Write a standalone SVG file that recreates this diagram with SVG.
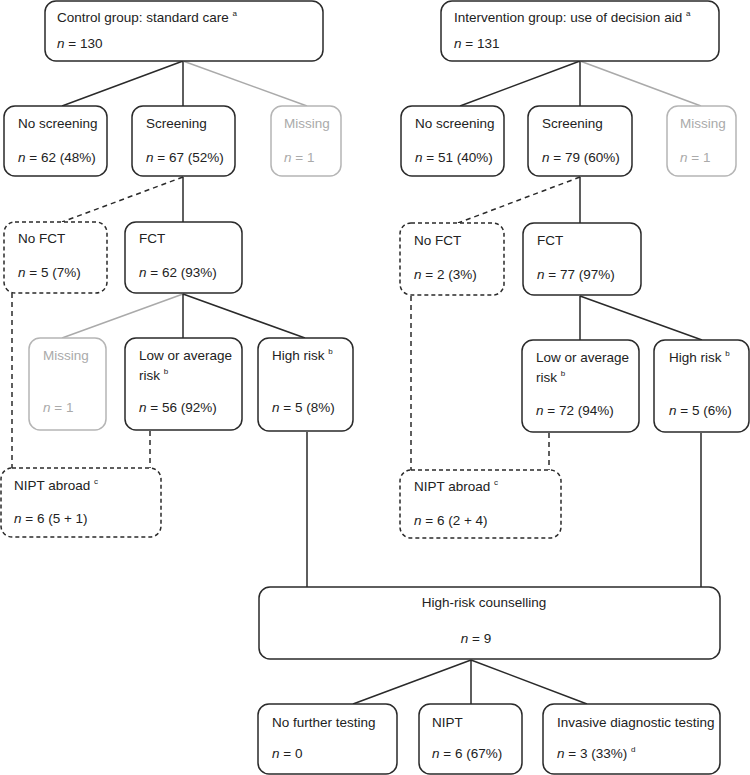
<svg xmlns="http://www.w3.org/2000/svg" width="750" height="775" viewBox="0 0 750 775">
<style>
text{font-family:"Liberation Sans",Arial,sans-serif;font-size:13.5px;fill:#222}
.box{fill:#fff;stroke:#2a2a2a;stroke-width:1.5}
.gbox{fill:#fff;stroke:#b5b5b5;stroke-width:1.5}
.dbox{fill:#fff;stroke:#2a2a2a;stroke-width:1.5;stroke-dasharray:4 3}
.g{fill:#aaa}
.c{stroke:#2a2a2a;stroke-width:1.5;fill:none}
.cg{stroke:#aaa;stroke-width:1.5;fill:none}
.cd{stroke:#2a2a2a;stroke-width:1.5;fill:none;stroke-dasharray:5 4}
.sup{font-size:8px}
.i{font-style:italic}
</style>
<g id="connectors">
<path class="c" d="M183 61L62 106M183 61V106"/>
<path class="cg" d="M183 61L307 106"/>
<path class="c" d="M580 61L460 106M580 61V106"/>
<path class="cg" d="M580 61L701 106"/>
<path class="cd" d="M183 177L62 222"/>
<path class="c" d="M183 177V222"/>
<path class="cd" d="M580 177L458 223"/>
<path class="c" d="M580 177V223"/>
<path class="cg" d="M183 294L62 338"/>
<path class="c" d="M183 294V338M183 294L305 338"/>
<path class="c" d="M580 296V340M580 296L702 340"/>
<path class="cd" d="M12 293V468M150 431V468"/>
<path class="cd" d="M411 296V470M549 433V470"/>
<path class="c" d="M307 432V587M701 433V587"/>
<path class="c" d="M471 660L353 704M471 660V704M471 660L587 704"/>
</g>
<g id="control">
<rect class="box" x="45" y="1" width="278" height="60" rx="11"/>
<text x="57" y="22">Control group: standard care <tspan class="sup" dy="-6">a</tspan></text>
<text x="57" y="48"><tspan class="i">n</tspan> = 130</text>
</g>
<g id="intervention">
<rect class="box" x="441" y="1" width="278" height="60" rx="11"/>
<text x="454" y="22">Intervention group: use of decision aid <tspan class="sup" dy="-6">a</tspan></text>
<text x="454" y="48"><tspan class="i">n</tspan> = 131</text>
</g>
<g id="c-noscreen">
<rect class="box" x="4" y="106" width="103" height="70" rx="11"/>
<text x="18" y="128">No screening</text>
<text x="18" y="162"><tspan class="i">n</tspan> = 62 (48%)</text>
</g>
<g id="c-screen">
<rect class="box" x="132" y="106" width="103" height="70" rx="11"/>
<text x="146" y="128">Screening</text>
<text x="146" y="162"><tspan class="i">n</tspan> = 67 (52%)</text>
</g>
<g id="c-missing">
<rect class="gbox" x="271" y="106" width="70" height="70" rx="11"/>
<text class="g" x="284" y="128">Missing</text>
<text class="g" x="284" y="162"><tspan class="i">n</tspan> = 1</text>
</g>
<g id="i-noscreen">
<rect class="box" x="401" y="106" width="103" height="70" rx="11"/>
<text x="415" y="128">No screening</text>
<text x="415" y="162"><tspan class="i">n</tspan> = 51 (40%)</text>
</g>
<g id="i-screen">
<rect class="box" x="528" y="106" width="104" height="70" rx="11"/>
<text x="542" y="128">Screening</text>
<text x="542" y="162"><tspan class="i">n</tspan> = 79 (60%)</text>
</g>
<g id="i-missing">
<rect class="gbox" x="667" y="106" width="69" height="70" rx="11"/>
<text class="g" x="680" y="128">Missing</text>
<text class="g" x="680" y="162"><tspan class="i">n</tspan> = 1</text>
</g>
<g id="c-nofct">
<rect class="dbox" x="4" y="222" width="103" height="71" rx="11"/>
<text x="18" y="243">No FCT</text>
<text x="18" y="277"><tspan class="i">n</tspan> = 5 (7%)</text>
</g>
<g id="c-fct">
<rect class="box" x="125" y="222" width="117" height="71" rx="11"/>
<text x="139" y="243">FCT</text>
<text x="139" y="277"><tspan class="i">n</tspan> = 62 (93%)</text>
</g>
<g id="i-nofct">
<rect class="dbox" x="400" y="223" width="104" height="72" rx="11"/>
<text x="414" y="245">No FCT</text>
<text x="414" y="279"><tspan class="i">n</tspan> = 2 (3%)</text>
</g>
<g id="i-fct">
<rect class="box" x="523" y="223" width="118" height="72" rx="11"/>
<text x="537" y="245">FCT</text>
<text x="537" y="279"><tspan class="i">n</tspan> = 77 (97%)</text>
</g>
<g id="c-missing2">
<rect class="gbox" x="29" y="338" width="77" height="92" rx="11"/>
<text class="g" x="43" y="360">Missing</text>
<text class="g" x="43" y="412"><tspan class="i">n</tspan> = 1</text>
</g>
<g id="c-low">
<rect class="box" x="125" y="338" width="117" height="92" rx="11"/>
<text x="139" y="360">Low or average</text>
<text x="139" y="380">risk <tspan class="sup" dy="-6">b</tspan></text>
<text x="139" y="412"><tspan class="i">n</tspan> = 56 (92%)</text>
</g>
<g id="c-high">
<rect class="box" x="258" y="338" width="95" height="93" rx="11"/>
<text x="272" y="360">High risk <tspan class="sup" dy="-6">b</tspan></text>
<text x="272" y="412"><tspan class="i">n</tspan> = 5 (8%)</text>
</g>
<g id="i-low">
<rect class="box" x="522" y="340" width="117" height="92" rx="11"/>
<text x="536" y="362">Low or average</text>
<text x="536" y="382">risk <tspan class="sup" dy="-6">b</tspan></text>
<text x="536" y="415"><tspan class="i">n</tspan> = 72 (94%)</text>
</g>
<g id="i-high">
<rect class="box" x="654" y="340" width="95" height="92" rx="11"/>
<text x="669" y="362">High risk <tspan class="sup" dy="-6">b</tspan></text>
<text x="669" y="415"><tspan class="i">n</tspan> = 5 (6%)</text>
</g>
<g id="c-nipt-abroad">
<rect class="dbox" x="1" y="468" width="160" height="69" rx="11"/>
<text x="14" y="490">NIPT abroad <tspan class="sup" dy="-6">c</tspan></text>
<text x="14" y="523"><tspan class="i">n</tspan> = 6 (5 + 1)</text>
</g>
<g id="i-nipt-abroad">
<rect class="dbox" x="400" y="470" width="161" height="68" rx="11"/>
<text x="414" y="491">NIPT abroad <tspan class="sup" dy="-6">c</tspan></text>
<text x="414" y="525"><tspan class="i">n</tspan> = 6 (2 + 4)</text>
</g>
<g id="counselling">
<rect class="box" x="259" y="587" width="461" height="72" rx="11"/>
<text x="484" y="607" text-anchor="middle">High-risk counselling</text>
<text x="476" y="643" text-anchor="middle"><tspan class="i">n</tspan> = 9</text>
</g>
<g id="no-further">
<rect class="box" x="258" y="704" width="139" height="70" rx="11"/>
<text x="272" y="727">No further testing</text>
<text x="272" y="758"><tspan class="i">n</tspan> = 0</text>
</g>
<g id="nipt">
<rect class="box" x="419" y="704" width="103" height="70" rx="11"/>
<text x="432" y="727">NIPT</text>
<text x="432" y="758"><tspan class="i">n</tspan> = 6 (67%)</text>
</g>
<g id="invasive">
<rect class="box" x="543" y="704" width="177" height="70" rx="11"/>
<text x="557" y="727">Invasive diagnostic testing</text>
<text x="557" y="758"><tspan class="i">n</tspan> = 3 (33%) <tspan class="sup" dy="-6">d</tspan></text>
</g>
</svg>
